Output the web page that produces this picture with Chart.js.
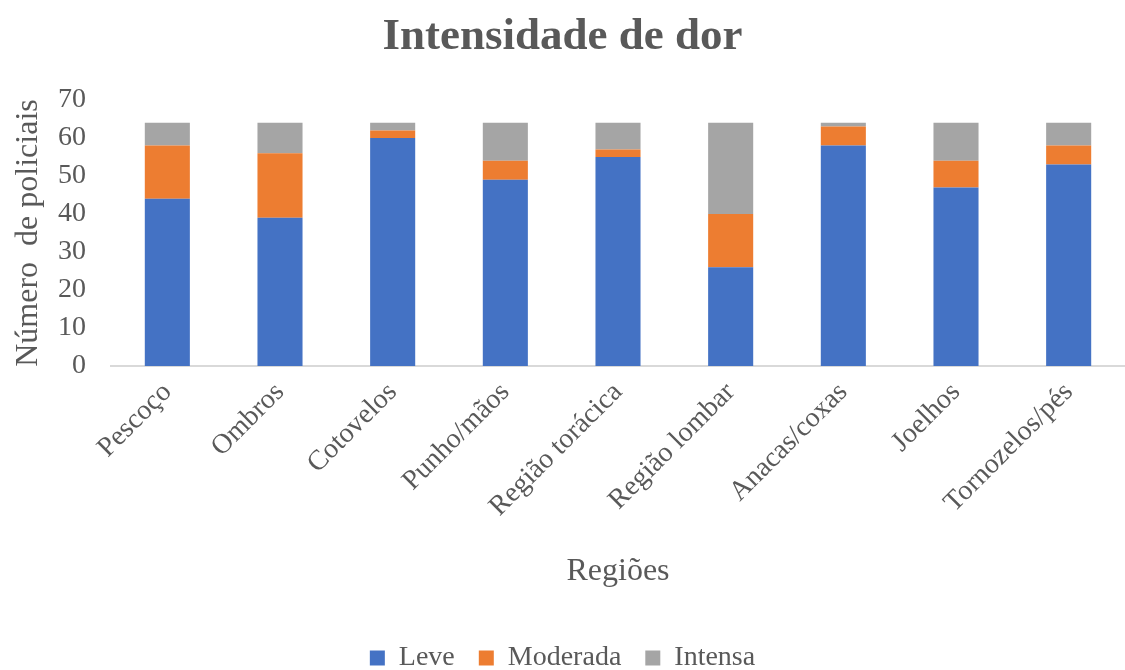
<!DOCTYPE html>
<html>
<head>
<meta charset="utf-8">
<script src="https://cdn.jsdelivr.net/npm/chart.js@4"></script>
<style>
  html, body { margin: 0; padding: 0; background: #fff; }
  #wrap { width: 1125px; height: 670px; }
</style>
</head>
<body>
<div id="wrap"><canvas id="graficoDor"></canvas></div>
<script>
const regioes = ['Pescoço', 'Ombros', 'Cotovelos', 'Punho/mãos', 'Região torácica', 'Região lombar', 'Anacas/coxas', 'Joelhos', 'Tornozelos/pés'];
const leve = [44, 39, 60, 49, 55, 26, 58, 47, 53];
const moderada = [14, 17, 2, 5, 2, 14, 5, 7, 5];
const intensa = [6, 8, 2, 10, 7, 24, 1, 10, 6];

const cinza = '#595959';
const fonte = 'Liberation Serif';

const ctx = document.getElementById('graficoDor').getContext('2d');
new Chart(ctx, {
  type: 'bar',
  data: {
    labels: regioes,
    datasets: [
      { label: 'Leve', data: leve, backgroundColor: '#4472C4' },
      { label: 'Moderada', data: moderada, backgroundColor: '#ED7D31' },
      { label: 'Intensa', data: intensa, backgroundColor: '#A5A5A5' }
    ]
  },
  options: {
    responsive: true,
    maintainAspectRatio: false,
    animation: false,
    layout: { padding: { bottom: -12 } },
    datasets: {
      bar: { barPercentage: 0.4, categoryPercentage: 1 }
    },
    plugins: {
      title: {
        display: true,
        text: 'Intensidade de dor',
        color: cinza,
        font: { family: fonte, size: 45, weight: 'bold' },
        padding: { top: 10, bottom: 36 }
      },
      legend: {
        position: 'bottom',
        labels: {
          color: cinza,
          font: { family: fonte, size: 28 },
          boxWidth: 15,
          boxHeight: 15,
          padding: 24
        }
      },
      tooltip: { enabled: false }
    },
    scales: {
      x: {
        stacked: true,
        grid: { display: false, drawTicks: false },
        border: { display: true, color: '#D9D9D9', width: 2 },
        ticks: {
          color: cinza,
          font: { family: fonte, size: 28 },
          minRotation: 45,
          maxRotation: 45,
          padding: 10
        },
        title: {
          display: true,
          text: 'Regiões',
          color: cinza,
          font: { family: fonte, size: 32 },
          padding: { bottom: 29 }
        },
        afterFit: (s) => { s.height = 254; }
      },
      y: {
        stacked: true,
        min: 0,
        max: 70,
        grid: { display: false, drawTicks: false },
        border: { display: false },
        ticks: {
          stepSize: 10,
          color: cinza,
          font: { family: fonte, size: 28 },
          padding: 25
        },
        title: {
          display: true,
          text: 'Número  de policiais',
          color: cinza,
          font: { family: fonte, size: 32 },
          padding: { top: 9 }
        },
        afterFit: (s) => { s.width = 111; }
      }
    }
  }
});
</script>
</body>
</html>
